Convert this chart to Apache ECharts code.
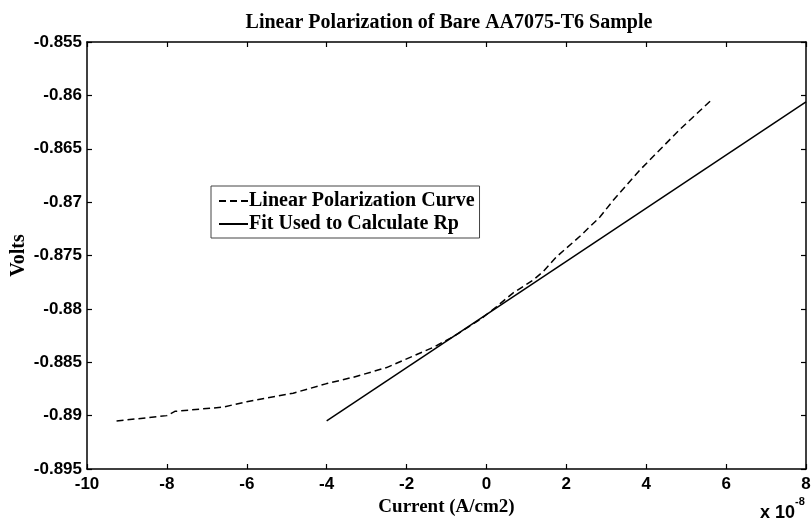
<!DOCTYPE html>
<html>
<head>
<meta charset="utf-8">
<script src="https://cdn.jsdelivr.net/npm/echarts@6/dist/echarts.min.js"></script>
<style>html,body{margin:0;padding:0;background:#fff}#c{width:812px;height:521px}</style>
</head>
<body>
<div id="c"></div>
<script>
// Current values are in units of 1e-8 A/cm2 (axis shows "x 10^-8")
const curveX = [-9.26, -8.0, -7.8, -6.59, -6.0, -4.84, -4.0, -3.33, -2.5, -1.33, -0.83, -0.16, 0.25, 0.67, 1.17, 1.42, 1.76, 2.34, 2.84, 3.18, 3.84, 4.26, 4.84, 5.64];
const curveY = [-0.8905, -0.8900, -0.8896, -0.8892, -0.8887, -0.8879, -0.8870, -0.8864, -0.8855, -0.8836, -0.8826, -0.8810, -0.8798, -0.8785, -0.8773, -0.8765, -0.8751, -0.8732, -0.8714, -0.8698, -0.8670, -0.8654, -0.8632, -0.8604];
const fitX = [-4, 8];
const fitY = [-0.8905, -0.8606];
const xTicks = [-10, -8, -6, -4, -2, 0, 2, 4, 6, 8];
const yTicks = [-0.895, -0.89, -0.885, -0.88, -0.875, -0.87, -0.865, -0.86, -0.855];
const seriesNames = ['Linear Polarization Curve', 'Fit Used to Calculate Rp'];
const titleText = 'Linear Polarization of Bare AA7075-T6 Sample';

const zip = (a, b) => a.map((v, i) => [v, b[i]]);
const serif = "'Liberation Serif', 'Times New Roman', serif";
const sans = "'Liberation Sans', Arial, sans-serif";
const axisLine = { show: true, onZero: false, lineStyle: { color: '#000', width: 1.5 } };
const tick = { show: true, inside: true, length: 5, lineStyle: { color: '#000', width: 1.2 } };

const chart = echarts.init(document.getElementById('c'), null, { renderer: 'canvas' });
chart.setOption({
  animation: false,
  backgroundColor: '#fff',
  title: {
    text: titleText, left: 444, top: 8, textAlign: 'center',
    textStyle: { fontFamily: serif, fontWeight: 'bold', fontSize: 20, color: '#000' }
  },
  grid: { left: 87, right: 6, top: 42, bottom: 52, outerBoundsMode: 'none', containLabel: false },
  legend: {
    orient: 'vertical', left: 211, top: 186,
    data: seriesNames,
    backgroundColor: '#fff', borderColor: '#444', borderWidth: 1,
    padding: [5, 5, 4, 7], itemGap: 3, itemWidth: 29, itemHeight: 20,
    itemStyle: { opacity: 0 },
    textStyle: { fontFamily: serif, fontWeight: 'bold', fontSize: 20, color: '#000', padding: [0, 0, 0, -4] }
  },
  xAxis: [{
    type: 'value', min: -10, max: 8, interval: 2, position: 'bottom',
    axisLine, axisTick: tick, splitLine: { show: false },
    axisLabel: { margin: 7, color: '#000', fontFamily: sans, fontWeight: 'bold', fontSize: 17,
      formatter: v => String(v) },
    name: 'Current (A/cm2)', nameLocation: 'middle', nameGap: 29,
    nameTextStyle: { fontFamily: serif, fontWeight: 'bold', fontSize: 19, color: '#000' }
  }, {
    type: 'value', min: -10, max: 8, interval: 2, position: 'top',
    axisLine, axisTick: tick, axisLabel: { show: false }, splitLine: { show: false }
  }],
  yAxis: [{
    type: 'value', min: -0.895, max: -0.855, interval: 0.005, position: 'left',
    axisLine, axisTick: tick, splitLine: { show: false },
    axisLabel: { margin: 5, color: '#000', fontFamily: sans, fontWeight: 'bold', fontSize: 17,
      formatter: v => String(parseFloat(v.toFixed(3))) },
    name: 'Volts', nameLocation: 'middle', nameGap: 58, nameRotate: 90, nameMoveOverlap: false,
    nameTextStyle: { fontFamily: serif, fontWeight: 'bold', fontSize: 20, color: '#000' }
  }, {
    type: 'value', min: -0.895, max: -0.855, interval: 0.005, position: 'right',
    axisLine, axisTick: tick, axisLabel: { show: false }, splitLine: { show: false }
  }],
  series: [{
    name: seriesNames[0], type: 'line', data: zip(curveX, curveY),
    symbol: 'none', color: '#000',
    lineStyle: { color: '#000', width: 1.5, type: [7, 4] }
  }, {
    name: seriesNames[1], type: 'line', data: zip(fitX, fitY),
    symbol: 'none', color: '#000',
    lineStyle: { color: '#000', width: 1.5, type: 'solid' }
  }],
  graphic: [{
    type: 'text', left: 760, top: 496,
    style: {
      text: '{b|x 10}{s|-8}',
      rich: {
        b: { fontFamily: sans, fontWeight: 'bold', fontSize: 18, fill: '#000', padding: [8, 0, 0, 0] },
        s: { fontFamily: sans, fontWeight: 'bold', fontSize: 11, fill: '#000', verticalAlign: 'top' }
      }
    }
  }]
});
</script>
</body>
</html>
